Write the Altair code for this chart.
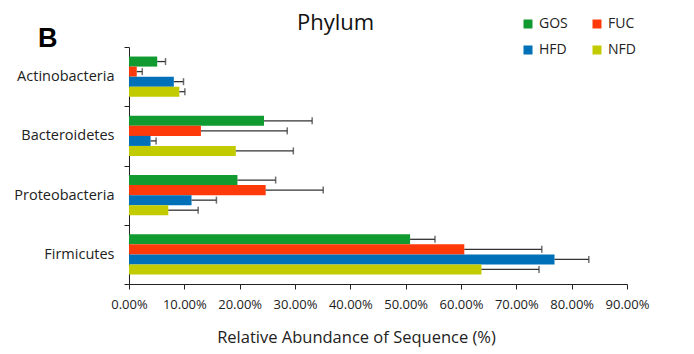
import altair as alt
import pandas as pd

phyla = ["Actinobacteria", "Bacteroidetes", "Proteobacteria", "Firmicutes"]
groups = ["GOS", "FUC", "HFD", "NFD"]
colors = ["#119A30", "#FF3A0A", "#0070B8", "#C2CA00"]

# mean relative abundance (%) per group, in phyla order
gos = [5.1, 24.4, 19.6, 50.8]
fuc = [1.4, 13.0, 24.7, 60.6]
hfd = [8.1, 3.9, 11.3, 76.9]
nfd = [9.1, 19.3, 7.1, 63.7]
# error bar lengths (%)
gos_err = [1.5, 8.7, 6.9, 4.5]
fuc_err = [1.0, 15.6, 10.4, 14.0]
hfd_err = [1.75, 1.0, 4.5, 6.2]
nfd_err = [1.0, 10.4, 5.4, 10.4]

x_ticks = [0, 10, 20, 30, 40, 50, 60, 70, 80, 90]
legend_order = ["GOS", "HFD", "FUC", "NFD"]

rows = []
for g, vals, errs in [("GOS", gos, gos_err), ("FUC", fuc, fuc_err),
                      ("HFD", hfd, hfd_err), ("NFD", nfd, nfd_err)]:
    for p, v, e in zip(phyla, vals, errs):
        rows.append({"phylum": p, "group": g, "value": v, "upper": v + e})
df = pd.DataFrame(rows)

FONT = "Open Sans"

x_scale = alt.Scale(domain=[0, 90])
x_axis = alt.Axis(values=x_ticks, labelExpr="format(datum.value, '.2f') + '%'",
                  labelOverlap=False, labelFlush=False, grid=False,
                  domainColor="#222", tickColor="#222",
                  tickSize=5, labelFontSize=13, labelColor="#222", labelFont=FONT,
                  labelPadding=9,
                  title="Relative Abundance of Sequence (%)", titleFont=FONT,
                  titleFontSize=16.5, titleFontWeight="normal", titleColor="#222",
                  titlePadding=18, titleX=227)

y_enc = alt.Y("phylum:N", sort=phyla,
              scale=alt.Scale(paddingInner=0, paddingOuter=0),
              axis=alt.Axis(title=None, tickBand="extent", domainColor="#222",
                            tickColor="#222", tickSize=5, labelFontSize=14.5,
                            labelColor="#222", labelFont=FONT, labelPadding=10))
yoff = alt.YOffset("group:N", sort=groups,
                   scale=alt.Scale(paddingInner=0, paddingOuter=0.95))

base = alt.Chart(df).encode(y=y_enc, yOffset=yoff)

bars = base.mark_bar().encode(
    x=alt.X("value:Q", scale=x_scale, axis=x_axis),
    color=alt.Color("group:N", scale=alt.Scale(domain=groups, range=colors),
                    legend=alt.Legend(title=None, orient="none", legendX=392, legendY=-30,
                                      values=legend_order,
                                      columns=2, symbolType="square", symbolSize=81,
                                      symbolStrokeWidth=0, labelFontSize=14,
                                      labelFont=FONT, labelColor="#222",
                                      rowPadding=12, columnPadding=22)),
)
rule = base.mark_rule(color="#333", strokeWidth=1.3).encode(
    x=alt.X("value:Q", scale=x_scale, axis=x_axis), x2="upper:Q")
cap = base.mark_tick(orient="vertical", size=7, thickness=1.5, color="#333").encode(
    x=alt.X("upper:Q", scale=x_scale, axis=x_axis))

letter = alt.Chart(pd.DataFrame({"t": ["B"]})).mark_text(
    font="Liberation Sans", fontSize=27, fontWeight="bold", align="left",
    baseline="alphabetic", color="#000").encode(
    text="t:N", x=alt.value(-91), y=alt.value(0))

chart = alt.layer(bars, rule, cap, letter).properties(
    width=498, height=237,
    title=alt.TitleParams("Phylum", anchor="start", frame="group", dx=168, dy=22,
                          font=FONT, fontSize=22, fontWeight="normal", color="#111"),
    autosize=alt.AutoSizeParams(type="none"),
    padding={"left": 129, "top": 47, "right": 67, "bottom": 70},
).configure_view(stroke=None)

chart.save("out.html", embed_options={"renderer": "svg", "actions": False})
